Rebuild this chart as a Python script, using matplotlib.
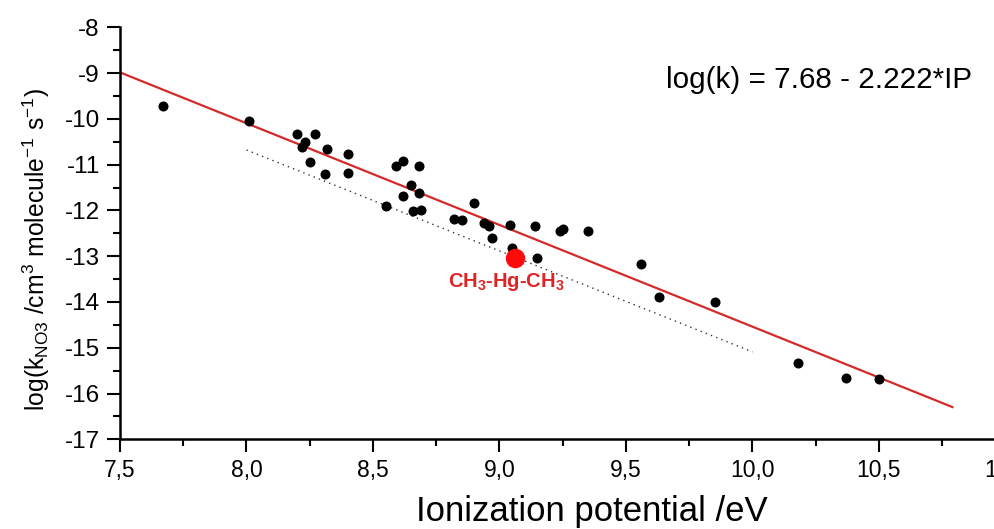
import matplotlib.pyplot as plt
import numpy as np

plt.rcParams['font.family'] = ['Liberation Sans', 'DejaVu Sans']
plt.rcParams['mathtext.fontset'] = 'custom'
plt.rcParams['mathtext.rm'] = 'Liberation Sans'
plt.rcParams['mathtext.it'] = 'Liberation Sans'
plt.rcParams['mathtext.bf'] = 'Liberation Sans:bold'
plt.rcParams['axes.unicode_minus'] = False

# ionization potential (eV) and log(k_NO3)
ip = [7.67, 8.01, 8.20, 8.27, 8.23, 8.22, 8.25, 8.32, 8.40, 8.31,
      8.40, 8.59, 8.62, 8.68, 8.65, 8.68, 8.62, 8.55, 8.66, 8.69,
      8.90, 8.82, 8.85, 8.94, 8.96, 8.97, 9.04, 9.14, 9.05, 9.15,
      9.24, 9.25, 9.35, 9.56, 9.63, 9.85, 10.18, 10.37, 10.50]
logk = [-9.72, -10.04, -10.33, -10.34, -10.50, -10.61, -10.94, -10.65, -10.76, -11.20,
        -11.19, -11.04, -10.92, -11.04, -11.44, -11.63, -11.68, -11.91, -12.02, -11.99,
        -11.83, -12.19, -12.21, -12.27, -12.33, -12.61, -12.32, -12.33, -12.83, -13.03,
        -12.44, -12.41, -12.46, -13.17, -13.90, -14.01, -15.34, -15.65, -15.69]

# dimethylmercury
hg_ip = 9.06
hg_logk = -13.05

# fit: log(k) = 7.68 - 2.222*IP
fit_a = 7.68
fit_b = -2.222
fit_range = [7.5, 10.79]

# dotted guide line
dot_ip = [8.0, 10.0]
dot_logk = [-10.68, -15.09]

fig = plt.figure(figsize=(9.94, 5.29), dpi=100)
ax = fig.add_axes([120 / 994, 89.7 / 529, 3.5 * 253 / 994, 412 / 529])

xf = np.array(fit_range)
ax.plot(xf, fit_a + fit_b * xf, color='#d42a2a', lw=1.6, zorder=2)
ax.plot(dot_ip, dot_logk, color='#333333', lw=1.0, ls=(0, (1, 3)), zorder=1)
ax.plot(ip, logk, 'o', color='black', ms=6.2, zorder=3)
ax.plot([hg_ip], [hg_logk], 'o', color='#ff0a0a', ms=13, zorder=4)
ax.text(hg_ip - 0.035, hg_logk - 0.28, r'CH$_\mathbf{3}$-Hg-CH$_\mathbf{3}$',
        color='#e02424', fontsize=14.5, fontweight='bold', ha='center', va='top')

ax.text(10.87, -9.15, 'log(k) = 7.68 - 2.222*IP', fontsize=21.3, ha='right', va='center')

ax.set_xlim(7.5, 11.0)
ax.set_ylim(-17, -8)
ax.set_xticks(np.arange(7.5, 11.01, 0.5))
ax.set_xticklabels([f'{v:.1f}'.replace('.', ',') for v in np.arange(7.5, 11.01, 0.5)])
ax.set_xticks(np.arange(7.75, 11.0, 0.5), minor=True)
ax.set_yticks(np.arange(-17, -7.9, 1))
ax.set_yticks(np.arange(-16.5, -8, 1), minor=True)

for s in ['top', 'right']:
    ax.spines[s].set_visible(False)
for s in ['left', 'bottom']:
    ax.spines[s].set_linewidth(1.8)
ax.tick_params(which='major', direction='out', length=9.5, width=1.5, labelsize=16.5, pad=5)
ax.tick_params(which='major', axis='y', labelsize=17.5)
ax.tick_params(which='minor', direction='out', length=5, width=1.5)

ax.set_xlabel('Ionization potential /eV', fontsize=25, va='center')
ax.xaxis.set_label_coords((592 - 120) / (3.5 * 253), -(512 - 439.3) / 412)
ax.set_ylabel(r'log(k$_{\mathrm{NO3}}$ /cm$^3$ molecule$^{-1}$ s$^{-1}$)', fontsize=17.8, va='center')
ax.yaxis.set_label_coords(-(120 - 36) / (3.5 * 253), (439.3 - 250) / 412)

fig.savefig('out.png', dpi=100)
